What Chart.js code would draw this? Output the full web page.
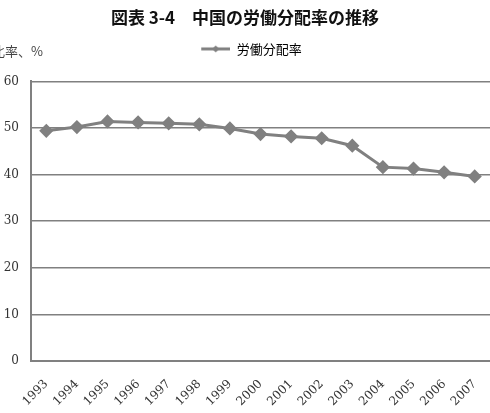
<!DOCTYPE html>
<html>
<head>
<meta charset="utf-8">
<script src="https://cdn.jsdelivr.net/npm/chart.js@4/dist/chart.umd.min.js"></script>
<style>
  html, body { margin: 0; padding: 0; background: #fff; }
  #wrap { width: 490px; height: 413px; }
</style>
</head>
<body>
<div id="wrap"><canvas id="c" width="490" height="413"></canvas></div>
<script>
// data
const years = ['1993', '1994', '1995', '1996', '1997', '1998', '1999', '2000',
               '2001', '2002', '2003', '2004', '2005', '2006', '2007'];
const laborShare = [49.4, 50.2, 51.4, 51.2, 51.0, 50.8, 49.9, 48.7,
                    48.2, 47.8, 46.2, 41.6, 41.3, 40.5, 39.6];
const yTicks = [0, 10, 20, 30, 40, 50, 60];

const seriesName = '労働分配率';
const titleText = '図表 3-4　中国の労働分配率の推移';
const yAxisText = '比率、%';

const GRAY = '#808080';
const SERIF = '"DejaVu Serif", "Liberation Serif", "Noto Sans CJK JP", serif';
const GOTHIC = '"Noto Sans CJK JP", "Noto Sans", sans-serif';

// legend marker: line with a small diamond, left part kept empty
// so the legend item sits a bit right of the centre like in the original
const MARK_W = 42;
function legendMarker() {
    const cv = document.createElement('canvas');
    cv.width = MARK_W;
    cv.height = 10;
    const g = cv.getContext('2d');
    g.strokeStyle = GRAY;
    g.lineWidth = 3;
    g.beginPath();
    g.moveTo(13, 5);
    g.lineTo(42, 5);
    g.stroke();
    g.fillStyle = GRAY;
    g.beginPath();
    g.moveTo(27.5, 1.5);
    g.lineTo(31, 5);
    g.lineTo(27.5, 8.5);
    g.lineTo(24, 5);
    g.closePath();
    g.fill();
    return cv;
}

// empty box between legend and plot, pushes the plot down
const spacer = {
    id: 'spacer',
    beforeInit(chart) {
        Chart.layouts.addBox(chart, {
            position: 'top',
            weight: 500,
            fullSize: true,
            options: {},
            left: 0, top: 0, right: 0, bottom: 0, width: 0, height: 0,
            update(maxWidth) { this.width = maxWidth; this.height = 16; },
            isHorizontal() { return true; },
            draw() {}
        });
    }
};

// y axis caption, top left (clipped by the page edge like in the original)
const yCaption = {
    id: 'yCaption',
    afterDraw(chart) {
        const ctx = chart.ctx;
        ctx.save();
        ctx.font = '13px ' + GOTHIC;
        ctx.fillStyle = '#444';
        ctx.textAlign = 'right';
        ctx.textBaseline = 'middle';
        ctx.fillText(yAxisText, 43, 51);
        ctx.restore();
    }
};

const marker = legendMarker();

new Chart(document.getElementById('c'), {
    type: 'line',
    data: {
        labels: years,
        datasets: [{
            label: seriesName,
            data: laborShare,
            borderColor: GRAY,
            backgroundColor: GRAY,
            borderWidth: 3,
            pointStyle: 'rectRot',
            pointRadius: 5,
            pointHoverRadius: 5,
            tension: 0
        }]
    },
    options: {
        responsive: false,
        animation: false,
        layout: { autoPadding: false, padding: { top: 7, right: 0, left: 0, bottom: 0 } },
        plugins: {
            title: {
                display: true,
                text: titleText,
                color: '#111',
                font: { family: GOTHIC, size: 17, weight: 'bold' },
                padding: { top: 0, bottom: 5 }
            },
            legend: {
                display: true,
                position: 'top',
                labels: {
                    usePointStyle: true,
                    pointStyleWidth: MARK_W,
                    color: '#666',
                    font: { family: GOTHIC, size: 13 },
                    padding: 10,
                    generateLabels: () => [{
                        text: seriesName,
                        pointStyle: marker,
                        fillStyle: GRAY,
                        strokeStyle: GRAY,
                        lineWidth: 0,
                        datasetIndex: 0
                    }]
                }
            },
            tooltip: { enabled: false }
        },
        scales: {
            x: {
                offset: true,
                // no tick marks drawn, tickLength only moves the labels down
                grid: { display: false, drawTicks: true, tickLength: 16 },
                border: { display: true, color: GRAY, width: 2 },
                ticks: {
                    color: '#333',
                    font: { family: SERIF, size: 12 },
                    maxRotation: 45,
                    minRotation: 45,
                    padding: 0
                },
                afterFit: (s) => { s.height = 52; s.paddingRight = 0; }
            },
            y: {
                min: 0,
                max: 60,
                afterBuildTicks: (s) => { s.ticks = yTicks.map(v => ({ value: v })); },
                grid: { color: GRAY, lineWidth: 1.5, drawTicks: false },
                border: { display: true, color: GRAY, width: 2 },
                ticks: {
                    color: '#333',
                    font: { family: SERIF, size: 12 },
                    padding: 12
                },
                afterFit: (s) => { s.width = 31; }
            }
        }
    },
    plugins: [spacer, yCaption]
});
</script>
</body>
</html>
